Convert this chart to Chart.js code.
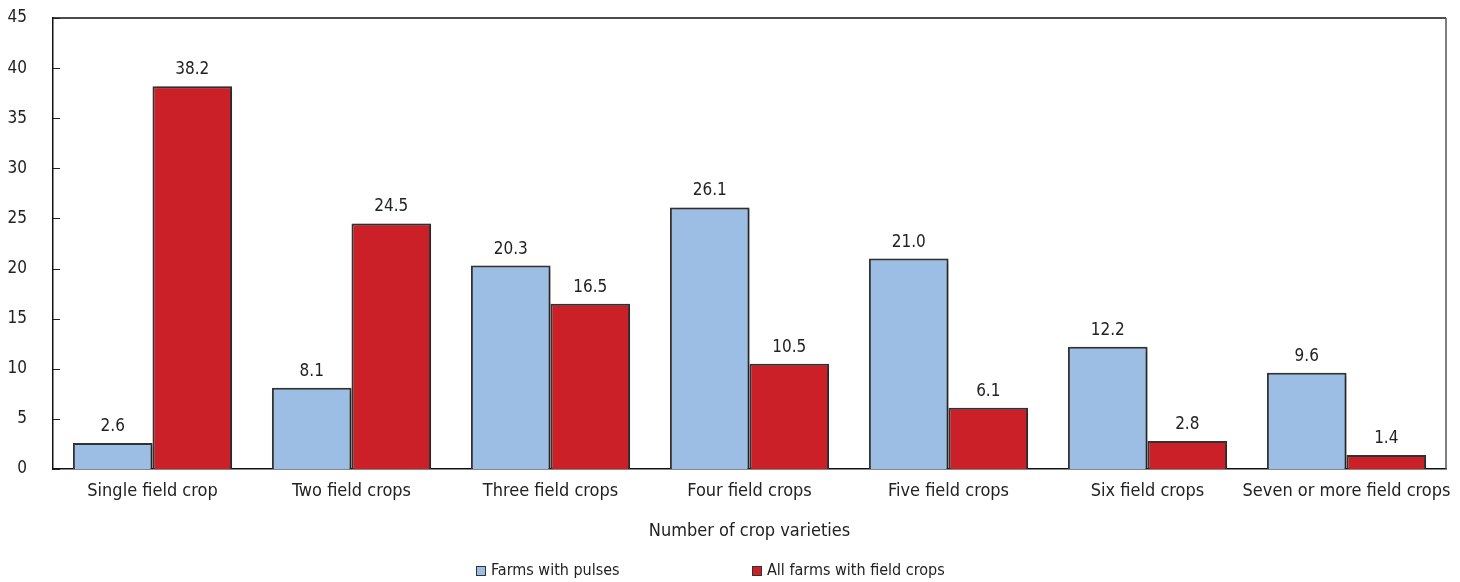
<!DOCTYPE html>
<html>
<head>
<meta charset="utf-8">
<script src="https://cdn.jsdelivr.net/npm/chart.js@4/dist/chart.umd.min.js"></script>
<style>
  html, body { margin: 0; padding: 0; background: #fff; }
  #wrap { width: 1460px; height: 582px; position: relative; }
</style>
</head>
<body>
<div id="wrap"><canvas id="c" width="1460" height="582"></canvas></div>
<script>
// Share of farms by number of field crop varieties grown (%)
const categories = [
  'Single field crop', 'Two field crops', 'Three field crops', 'Four field crops',
  'Five field crops', 'Six field crops', 'Seven or more field crops'
];
const pulsesFarms = [2.6, 8.1, 20.3, 26.1, 21.0, 12.2, 9.6];
const allFieldCropFarms = [38.2, 24.5, 16.5, 10.5, 6.1, 2.8, 1.4];
const seriesNames = ['Farms with pulses', 'All farms with field crops'];
const axisTitleX = 'Number of crop varieties';
const yMax = 45;
const yStep = 5;

const FONT = '"Liberation Sans Narrow", "Arial Narrow", "DejaVu Sans Condensed", sans-serif';
const TEXT = '#222';
const blue = '#9dbee4';
const red = '#cc2028';
const edge = '#333';

// Soft drop shadow under the bars
const barShadow = {
  id: 'barShadow',
  beforeDatasetsDraw(chart) {
    const ctx = chart.ctx;
    ctx.save();
    ctx.shadowColor = 'rgba(0,0,0,0.4)';
    ctx.shadowBlur = 3;
    ctx.shadowOffsetX = 2;
    ctx.shadowOffsetY = 1;
  },
  afterDatasetsDraw(chart) {
    chart.ctx.restore();
  }
};

// Frame, inward y ticks, value labels, axis title and legend
const decorations = {
  id: 'decorations',
  afterDraw(chart) {
    const ctx = chart.ctx;
    const a = chart.chartArea;
    const y = chart.scales.y;
    ctx.save();

    // top and right frame lines
    ctx.lineWidth = 1.5;
    ctx.strokeStyle = '#111';
    ctx.beginPath();
    ctx.moveTo(a.left, a.top);
    ctx.lineTo(a.right, a.top);
    ctx.stroke();
    ctx.strokeStyle = '#555';
    ctx.beginPath();
    ctx.moveTo(a.right, a.top);
    ctx.lineTo(a.right, a.bottom);
    ctx.stroke();

    // inward tick marks on the value axis
    ctx.strokeStyle = '#222';
    ctx.lineWidth = 1;
    y.ticks.forEach(t => {
      const py = Math.round(y.getPixelForValue(t.value)) + 0.5;
      ctx.beginPath();
      ctx.moveTo(a.left, py);
      ctx.lineTo(a.left + 7, py);
      ctx.stroke();
    });

    // value labels above each bar
    ctx.fillStyle = TEXT;
    ctx.font = '17px ' + FONT;
    ctx.textAlign = 'center';
    ctx.textBaseline = 'alphabetic';
    chart.data.datasets.forEach((ds, i) => {
      const meta = chart.getDatasetMeta(i);
      meta.data.forEach((bar, j) => {
        ctx.fillText(ds.data[j].toFixed(1), bar.x, bar.y - 12);
      });
    });

    // x-axis title
    ctx.font = '18px ' + FONT;
    ctx.textBaseline = 'middle';
    ctx.fillText(axisTitleX, (a.left + a.right) / 2, 531);

    // legend
    ctx.font = '16px ' + FONT;
    const items = [
      { x: 476, label: chart.data.datasets[0].label, color: chart.data.datasets[0].backgroundColor },
      { x: 752, label: chart.data.datasets[1].label, color: chart.data.datasets[1].backgroundColor }
    ];
    ctx.textAlign = 'left';
    items.forEach(it => {
      ctx.fillStyle = it.color;
      ctx.fillRect(it.x, 566, 10, 10);
      ctx.strokeStyle = '#333';
      ctx.lineWidth = 1;
      ctx.strokeRect(it.x + 0.5, 566.5, 9, 9);
      ctx.fillStyle = TEXT;
      ctx.fillText(it.label, it.x + 15, 571);
    });
    ctx.restore();
  }
};

new Chart(document.getElementById('c'), {
  type: 'bar',
  data: {
    labels: categories,
    datasets: [
      {
        label: seriesNames[0],
        data: pulsesFarms,
        backgroundColor: blue,
        borderColor: edge,
        borderWidth: 2,
        categoryPercentage: 0.8,
        barPercentage: 1.0
      },
      {
        label: seriesNames[1],
        data: allFieldCropFarms,
        backgroundColor: red,
        borderColor: edge,
        borderWidth: 2,
        categoryPercentage: 0.8,
        barPercentage: 1.0
      }
    ]
  },
  options: {
    responsive: false,
    animation: false,
    devicePixelRatio: 1,
    layout: { padding: { top: 18, right: 14, left: 0, bottom: 0 } },
    plugins: {
      legend: { display: false },
      tooltip: { enabled: false }
    },
    scales: {
      x: {
        grid: { display: false, drawTicks: false },
        border: { display: true, color: '#111', width: 1.5 },
        ticks: {
          color: TEXT,
          font: { family: FONT, size: 18 },
          padding: 12,
          maxRotation: 0,
          autoSkip: false
        },
        afterFit(scale) {
          scale.height = 113;
          scale.paddingLeft = 0;
          scale.paddingRight = 0;
        }
      },
      y: {
        min: 0,
        max: yMax,
        grid: { display: false, drawTicks: false },
        border: { display: true, color: '#111', width: 1.5 },
        ticks: {
          stepSize: yStep,
          color: TEXT,
          font: { family: FONT, size: 17 },
          padding: 26
        },
        afterFit(scale) {
          scale.width = 53;
          scale.paddingTop = 0;
          scale.paddingBottom = 0;
        }
      }
    }
  },
  plugins: [barShadow, decorations]
});
</script>
</body>
</html>
